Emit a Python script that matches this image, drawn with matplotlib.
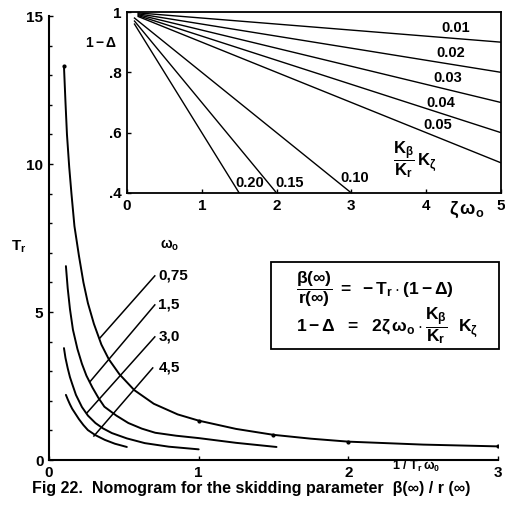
import matplotlib
matplotlib.use("Agg")
import matplotlib.pyplot as plt
from matplotlib.patches import Rectangle

# data
omega_labels = ["0,75", "1,5", "3,0", "4,5"]

x_075 = [0.10, 0.11, 0.12, 0.135, 0.15, 0.17, 0.20, 0.23, 0.26, 0.30, 0.35, 0.40,
         0.47, 0.57, 0.70, 0.86, 1.0, 1.25, 1.5, 1.75, 2.0, 2.5, 3.0]
t_075 = [13.3, 12.1, 11.0, 9.9, 9.0, 7.9, 6.9, 6.0, 5.3, 4.6, 3.9, 3.4,
         2.9, 2.36, 1.9, 1.54, 1.33, 1.05, 0.85, 0.72, 0.62, 0.52, 0.46]
x_15 = [0.113, 0.125, 0.14, 0.16, 0.19, 0.22, 0.25, 0.29, 0.33, 0.37, 0.45, 0.53,
        0.62, 0.71, 0.85, 1.0, 1.25, 1.52]
t_15 = [6.55, 5.8, 5.1, 4.4, 3.75, 3.25, 2.85, 2.45, 2.1, 1.8, 1.5, 1.25,
        1.06, 0.92, 0.82, 0.74, 0.58, 0.44]
x_30 = [0.10, 0.11, 0.125, 0.14, 0.155, 0.18, 0.22, 0.26, 0.31, 0.36, 0.42, 0.52,
        0.64, 0.80, 1.0]
t_30 = [3.78, 3.45, 3.1, 2.8, 2.57, 2.2, 1.79, 1.5, 1.25, 1.07, 0.91, 0.73,
        0.57, 0.45, 0.36]
x_45 = [0.113, 0.125, 0.14, 0.155, 0.173, 0.20, 0.23, 0.26, 0.31, 0.373, 0.44, 0.52]
t_45 = [2.2, 2.05, 1.88, 1.73, 1.59, 1.38, 1.18, 1.01, 0.84, 0.68, 0.55, 0.44]

# dots marked on the 0.75 curve
dot_x = [0.10, 1.0, 1.5, 2.0, 3.0]
dot_t = [13.3, 1.33, 0.85, 0.62, 0.46]

# label leader lines (top end at label, bottom end on curve)
lead_x = [[0.707, 0.34], [0.707, 0.273], [0.707, 0.253], [0.693, 0.30]]
lead_t = [[6.22, 4.12], [5.24, 2.64], [4.16, 1.59], [3.11, 0.81]]

# inset: 1 - Delta vs zeta*omega0 for Kb/Kr*Kz
k_labels = ["0.01", "0.02", "0.03", "0.04", "0.05", "0.10", "0.15", "0.20"]
k_x = [[0.15, 5], [0.15, 5], [0.15, 5], [0.15, 5], [0.15, 5],
       [0.10, 3], [0.10, 2], [0.10, 1.5]]
k_y = [[0.997, 0.90], [0.994, 0.80], [0.991, 0.70], [0.988, 0.60], [0.985, 0.50],
       [0.98, 0.40], [0.97, 0.40], [0.96, 0.40]]
k_lab_x = [4.4, 4.33, 4.29, 4.2, 4.15, 3.05, 2.17, 1.64]
k_lab_y = [0.947, 0.864, 0.781, 0.698, 0.625, 0.45, 0.433, 0.433]

fam = "Liberation Sans"
plt.rcParams['font.family'] = [fam, 'DejaVu Sans']
plt.rcParams['font.weight'] = 'bold'
plt.rcParams['mathtext.fontset'] = 'custom'
plt.rcParams['mathtext.rm'] = fam + ':bold'
plt.rcParams['mathtext.it'] = fam + ':bold'
plt.rcParams['mathtext.bf'] = fam + ':bold'
plt.rcParams['mathtext.sf'] = fam + ':bold'

W, H = 506, 508
fig = plt.figure(figsize=(W / 100, H / 100), dpi=100)
fig.patch.set_facecolor('white')

ax = fig.add_axes([49 / W, 1 - 460 / H, (498 - 49) / W, (460 - 16) / H])
for xs, ts in [(x_075, t_075), (x_15, t_15), (x_30, t_30), (x_45, t_45)]:
    ax.plot(xs, ts, color='black', lw=1.4, solid_capstyle='round')
ax.plot(dot_x, dot_t, 'o', color='black', ms=2.0)
for xs, ts in zip(lead_x, lead_t):
    ax.plot(xs, ts, color='black', lw=1.1)
for lab, ts in zip(omega_labels, lead_t):
    ax.text(0.73, ts[0], lab, fontsize=11, va='center', ha='left')
ax.text(0.74, 7.25, r'$\omega_o$', fontsize=10, va='center', ha='left')

ax.set_xlim(0, 3)
ax.set_ylim(0, 15)
ax.spines['top'].set_visible(False)
ax.spines['right'].set_visible(False)
ax.spines['left'].set_linewidth(1.5)
ax.spines['bottom'].set_linewidth(1.5)
ax.set_xticks([0, 1, 2, 3])
ax.set_yticks([0, 5, 10, 15])
ax.set_yticks(range(0, 16), minor=True)
ax.tick_params(axis='both', direction='in', length=3, width=1, labelsize=11, pad=4)
ax.tick_params(axis='y', which='minor', direction='in', length=2, width=1)
ax.text(-0.067, 0.48, r'$T_r$', transform=ax.transAxes, fontsize=11, va='center', ha='center')
ax.text(2.45, -0.22, r'$1\ /\ T_r\,\omega_0$', fontsize=9, va='center', ha='center')

# inset
ins = fig.add_axes([127 / W, 1 - 193 / H, (501 - 127) / W, (193 - 12) / H])
ins.set_facecolor('white')
for xs, ys in zip(k_x, k_y):
    ins.plot(xs, ys, color='black', lw=1.0)
for lab, lx, ly in zip(k_labels, k_lab_x, k_lab_y):
    ins.text(lx, ly, lab, fontsize=10.5, va='center', ha='center')
ins.text(3.85, 0.51, r'$\dfrac{K_\beta}{K_r}\,K_\zeta$', fontsize=12, va='center', ha='center')
ins.set_xlim(0, 5)
ins.set_ylim(0.4, 1.0)
ins.set_xticks([0, 1, 2, 3, 4, 5])
ins.set_yticks([0.4, 0.6, 0.8, 1.0])
ins.set_yticklabels(['.4', '.6', '.8', '1'])
for s in ins.spines.values():
    s.set_linewidth(1.3)
ins.tick_params(axis='both', direction='in', length=3, width=1, labelsize=11, pad=4)
ins.text(-0.07, 0.83, r'$1-\Delta$', transform=ins.transAxes, fontsize=10, va='center', ha='center')
ins.text(4.3, 0.345, r'$\zeta\,\omega_o$', fontsize=13, va='center', ha='left', clip_on=False)

# formula box
fig.patches.append(Rectangle((271 / W, 1 - 349 / H), (499 - 271) / W, (349 - 262) / H,
                             transform=fig.transFigure, fill=False, lw=1.3, color='black'))
fig.text(296 / W, 1 - 289 / H, r'$\dfrac{\beta(\infty)}{r(\infty)}\ =\ -T_r\cdot(1-\Delta)$',
         fontsize=12.5, va='center', ha='left')
fig.text(296 / W, 1 - 326 / H, r'$1-\Delta\ \ =\ \ 2\zeta\,\omega_o\cdot\dfrac{K_\beta}{K_r}\ \ K_\zeta$',
         fontsize=12.5, va='center', ha='left')

fig.text(32 / W, 1 - 488 / H, 'Fig 22.  Nomogram for the skidding parameter  \u03b2(\u221e) / r (\u221e)',
         fontsize=11.5, va='center', ha='left')

fig.savefig('out.png', dpi=100)
